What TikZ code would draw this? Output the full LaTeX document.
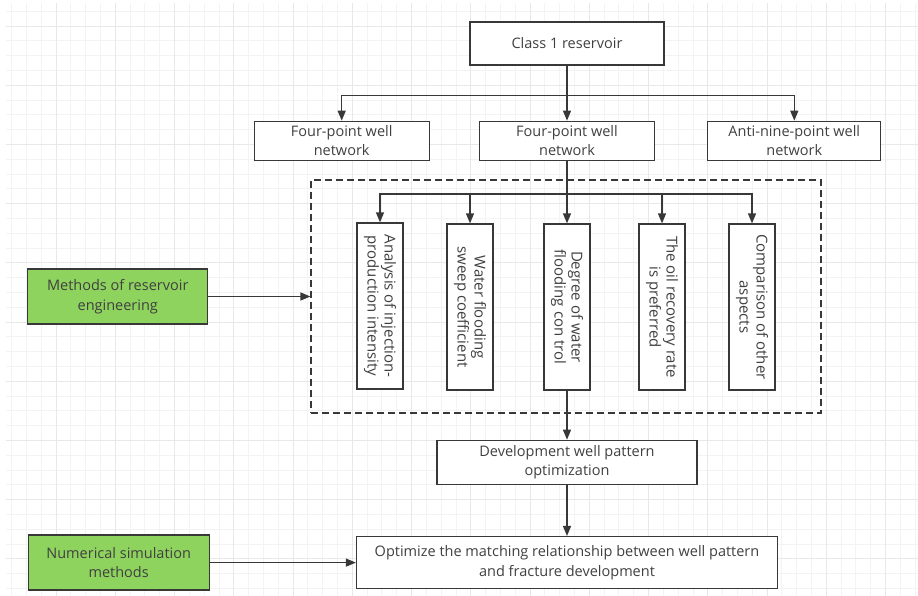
\documentclass[tikz,border=0pt]{standalone}
\usepackage{fontspec}
\setmainfont{Open Sans}
\usepackage{xcolor}
\usetikzlibrary{arrows.meta,positioning}

\definecolor{linegray}{HTML}{383838}
\definecolor{textgray}{HTML}{404040}
\definecolor{methodgreen}{RGB}{143,211,95}
\definecolor{gridfinecol}{HTML}{F3F3F3}
\definecolor{gridthickcol}{HTML}{E8E8E8}

\begin{document}
\begin{tikzpicture}[
    x=1pt, y=-1pt,
    font=\fontsize{14.5}{19.5}\selectfont,
    box/.style={rectangle, draw=linegray, line width=1.3pt, fill=white, text=textgray, align=center, inner sep=2pt},
    vbox/.style={box, rotate=-90, minimum width=166pt, minimum height=46pt, font=\fontsize{15}{17}\selectfont},
    greenbox/.style={box, fill=methodgreen, minimum width=180pt, minimum height=55pt},
    arrow/.style={-{Triangle[length=10pt,width=8pt]}, draw=linegray, line width=1.3pt},
    dashbox/.style={rectangle, draw=linegray, line width=1.2pt, dash pattern=on 7pt off 4pt, inner sep=0pt},
    gridfine/.style={draw=gridfinecol, line width=0.8pt},
    gridthick/.style={draw=gridthickcol, line width=1pt}
]
\useasboundingbox (0,0) rectangle (918,595);

% Background grid
\begin{scope}
  \clip (6,3) rectangle (918,595);
  \foreach \k in {-4,...,60} \draw[gridfine] ({56+\k*14.8125},0) -- ({56+\k*14.8125},600);
  \foreach \k in {-4,...,40} \draw[gridfine] (0,{26+\k*14.8}) -- (918,{26+\k*14.8});
  \foreach \k in {-1,...,15} \draw[gridthick] ({56+\k*59.25},0) -- ({56+\k*59.25},600);
  \foreach \k in {-1,...,10} \draw[gridthick] (0,{26+\k*59.2}) -- (918,{26+\k*59.2});
\end{scope}

% Reservoir
\node[box, minimum width=194pt, minimum height=43pt] (cls) at (567,43.5) {Class 1 reservoir};

% Well networks
\node[box, minimum width=175pt, minimum height=39pt, below=55pt of cls] (net2) {Four-point well\\network};
\node[box, minimum width=175pt, minimum height=39pt, left=49pt of net2] (net1) {Four-point well\\network};
\node[box, minimum width=173pt, minimum height=39pt, right=52pt of net2] (net3) {Anti-nine-point well\\network};
\coordinate[below=30pt of cls.south] (split1);

% Evaluation frame
\node[dashbox, minimum width=510pt, minimum height=233pt] (frame) at (566,296.5) {};
\coordinate[below=33pt of net2.south] (split2);

% Evaluation items
\node[vbox] (m1) at (380,306) {Analysis of injection-\\production intensity};
\node[vbox] (m2) at (470,307) {Water flooding\\sweep coefficient};
\node[vbox] (m3) at (567,307) {Degree of water\\flooding con trol};
\node[vbox] (m4) at (662,307) {The oil recovery rate\\is preferred};
\node[vbox] (m5) at (752,307) {Comparison of other\\aspects};

% Optimization
\node[box, minimum width=260pt, minimum height=44pt, below=49pt of m3.east] (dev) {Development well pattern\\optimization};
\node[box, minimum width=421pt, minimum height=52pt, below=51pt of dev] (opt) {Optimize the matching relationship between well pattern\\and fracture development};

% Methods
\node[greenbox, left=102pt of frame] (meth) {Methods of reservoir\\engineering};
\node[greenbox, minimum width=181pt, left=146pt of opt] (sim) {Numerical simulation\\methods};

% Arrows
\draw[arrow] (cls) -- (net2);
\draw[arrow] (split1) -| (net1.north);
\draw[arrow] (split1) -| (net3.north);
\draw[arrow] (net2) -- (m3);
\draw[arrow] (split2) -| (m1.west);
\draw[arrow] (split2) -| (m2.west);
\draw[arrow] (split2) -| (m4.west);
\draw[arrow] (split2) -| (m5.west);
\draw[arrow] (m3) -- (dev);
\draw[arrow] (dev) -- (opt);
\draw[arrow] (meth) -- (meth -| frame.west);
\draw[arrow] (sim) -- (opt);

\end{tikzpicture}
\end{document}
